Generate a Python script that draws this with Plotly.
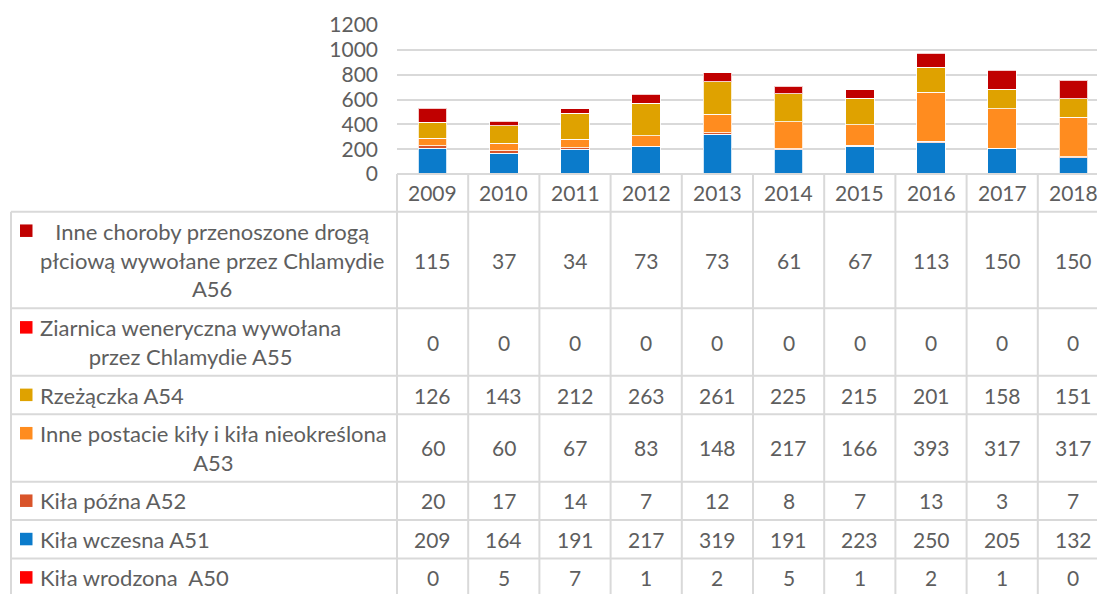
import plotly.graph_objects as go

# ---------------- data ----------------
years = ['2009', '2010', '2011', '2012', '2013', '2014', '2015', '2016', '2017', '2018']

a50 = [0, 5, 7, 1, 2, 5, 1, 2, 1, 0]
a51 = [209, 164, 191, 217, 319, 191, 223, 250, 205, 132]
a52 = [20, 17, 14, 7, 12, 8, 7, 13, 3, 7]
a53 = [60, 60, 67, 83, 148, 217, 166, 393, 317, 317]
a54 = [126, 143, 212, 263, 261, 225, 215, 201, 158, 151]
a55 = [0, 0, 0, 0, 0, 0, 0, 0, 0, 0]
a56 = [115, 37, 34, 73, 73, 61, 67, 113, 150, 150]

label_a50 = 'Kiła wrodzona \u00a0A50'
label_a51 = 'Kiła wczesna A51'
label_a52 = 'Kiła późna A52'
label_a53 = 'Inne postacie kiły i kiła nieokreślona<br>A53'
label_a54 = 'Rzeżączka A54'
label_a55 = 'Ziarnica weneryczna wywołana<br>przez Chlamydie A55'
label_a56 = 'Inne choroby przenoszone drogą<br>płciową wywołane przez Chlamydie<br>A56'

y_ticks = [0, 200, 400, 600, 800, 1000, 1200]

# stacking order (bottom -> top)
series = [
    (label_a50, a50, '#FF0000'),
    (label_a51, a51, '#0B7BCB'),
    (label_a52, a52, '#D9542A'),
    (label_a53, a53, '#FF8C1F'),
    (label_a54, a54, '#DFA200'),
    (label_a55, a55, '#FF0000'),
    (label_a56, a56, '#C00000'),
]
# data table rows (top -> bottom)
table_rows = list(reversed(series))

# ---------------- geometry (screen pixels) ----------------
W, H = 1097, 594
PLOT_LEFT = 397.0      # left edge of the category columns
COL_W = 71.2           # width of one category column
AXIS_Y0 = 174.0        # y of value 0
AXIS_Y1 = 25.0         # y of value 1200
YEAR_ROW_MID = 192.5
TABLE_TOP = 211.7
TABLE_LEFT = 11.0
LABEL_X = 38.0
KEY_X0, KEY_SIZE = 20.0, 12.5
PAD, LINE_H = 9.2, 29.15

GRID = '#D9D9D9'
TXT = '#5E5E5E'
FONT = 'Lato, "Open Sans", Arial, sans-serif'
FS_LABEL = 22
FS_NUM = 21


def px(x):
    return x / W


def py(y):
    return 1 - y / H


fig = go.Figure()
for name, vals, color in series:
    fig.add_bar(
        x=list(range(len(years))), y=vals, name=name.replace('<br>', ' '),
        marker=dict(color=color, line=dict(color='rgba(255,255,255,0.8)', width=1)),
        showlegend=False,
    )

shapes = []
annotations = []

# axis line at 0
shapes.append(dict(type='line', xref='paper', yref='paper',
                   x0=px(PLOT_LEFT), x1=1, y0=py(AXIS_Y0), y1=py(AXIS_Y0),
                   line=dict(color=GRID, width=2)))

# vertical column separators (from axis down to bottom)
for i in range(len(years) + 1):
    xx = PLOT_LEFT + COL_W * i
    if xx > W:
        break
    shapes.append(dict(type='line', xref='paper', yref='paper',
                       x0=px(xx), x1=px(xx), y0=py(AXIS_Y0), y1=0,
                       line=dict(color=GRID, width=2)))

# left border of the table
shapes.append(dict(type='line', xref='paper', yref='paper',
                   x0=px(TABLE_LEFT), x1=px(TABLE_LEFT), y0=py(TABLE_TOP), y1=0,
                   line=dict(color=GRID, width=2)))

# year labels
for i, yr in enumerate(years):
    annotations.append(dict(x=i, xref='x', y=py(YEAR_ROW_MID), yref='paper',
                            text=yr, showarrow=False, xanchor='center', yanchor='middle',
                            font=dict(family=FONT, size=FS_NUM, color=TXT)))

# table rows
top = TABLE_TOP
for name, vals, color in table_rows:
    n_lines = name.count('<br>') + 1
    h = PAD + LINE_H * n_lines
    bottom = top + h
    mid = (top + bottom) / 2
    shapes.append(dict(type='line', xref='paper', yref='paper',
                       x0=px(TABLE_LEFT), x1=1, y0=py(top), y1=py(top),
                       line=dict(color=GRID, width=2)))
    key_cy = top + 19.0
    shapes.append(dict(type='rect', xref='paper', yref='paper',
                       x0=px(KEY_X0), x1=px(KEY_X0 + KEY_SIZE),
                       y0=py(key_cy - KEY_SIZE / 2), y1=py(key_cy + KEY_SIZE / 2),
                       fillcolor=color, line=dict(width=0)))
    annotations.append(dict(x=px(LABEL_X), xref='paper', y=py(mid), yref='paper',
                            text=name, showarrow=False, xanchor='left', yanchor='middle',
                            align='center', font=dict(family=FONT, size=FS_LABEL, color=TXT)))
    for i, v in enumerate(vals):
        annotations.append(dict(x=i, xref='x', y=py(mid), yref='paper',
                                text=str(v), showarrow=False, xanchor='center', yanchor='middle',
                                font=dict(family=FONT, size=FS_NUM, color=TXT)))
    top = bottom
    if top >= H:
        break
if top < H:
    shapes.append(dict(type='line', xref='paper', yref='paper',
                       x0=px(TABLE_LEFT), x1=1, y0=py(top), y1=py(top),
                       line=dict(color=GRID, width=2)))

fig.update_layout(
    width=W, height=H, autosize=False,
    margin=dict(l=0, r=0, t=0, b=0),
    template='none',
    paper_bgcolor='white', plot_bgcolor='white',
    barmode='stack', bargap=0.6,
    showlegend=False,
    hovermode=False,
    font=dict(family=FONT, size=FS_NUM, color=TXT),
    xaxis=dict(domain=[px(PLOT_LEFT), 1],
               range=[-0.5, -0.5 + (W - PLOT_LEFT) / COL_W],
               showticklabels=False, showgrid=False, zeroline=False, showline=False,
               fixedrange=True),
    yaxis=dict(domain=[py(AXIS_Y0), py(AXIS_Y1)], range=[0, 1200],
               tickvals=y_ticks, showgrid=True, gridcolor=GRID, gridwidth=2,
               zeroline=False, showline=False, ticks='',
               ticklabelstandoff=18,
               tickfont=dict(family=FONT, size=FS_NUM, color=TXT), fixedrange=True),
    shapes=shapes,
    annotations=annotations,
)

fig.write_html('out.html',
               config={'displayModeBar': False, 'staticPlot': True},
               post_script="document.body.style.margin='0px';"
                           "document.body.style.overflow='hidden';")
